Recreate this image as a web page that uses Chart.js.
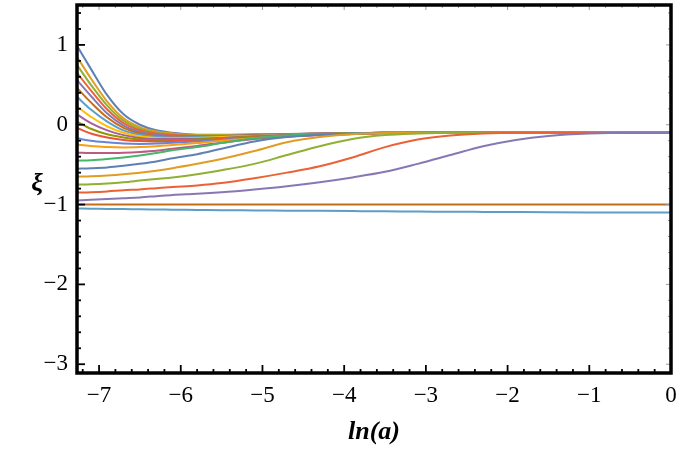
<!DOCTYPE html>
<html>
<head>
<meta charset="utf-8">
<script src="https://cdn.jsdelivr.net/npm/chart.js@4.4.1/dist/chart.umd.min.js"></script>
<style>
  html, body { margin: 0; padding: 0; background: #fff; }
  canvas { display: block; }
</style>
</head>
<body>
<canvas id="chart" width="681" height="452"></canvas>
<script>
// ln(a) sample points shared by every curve
const lnA = [-7.27, -7.1, -6.9, -6.7, -6.5, -6.3, -6.1, -5.8, -5.5, -5.1, -4.7, -4.3, -3.9, -3.5, -3.1, -2.7, -2.3, -1.9, -1.5, -1.0, -0.5, 0];

// xi(ln a) for each initial value (top curve first)
const xiCurves = [
  [0.99, 0.7, 0.37, 0.13, 0.0, -0.07, -0.1, -0.125, -0.125, -0.12, -0.115, -0.11, -0.105, -0.1, -0.1, -0.1, -0.1, -0.1, -0.1, -0.1, -0.1, -0.1],
  [0.85, 0.58, 0.29, 0.08, -0.03, -0.085, -0.11, -0.13, -0.13, -0.125, -0.12, -0.11, -0.105, -0.1, -0.1, -0.1, -0.1, -0.1, -0.1, -0.1, -0.1, -0.1],
  [0.75, 0.5, 0.24, 0.05, -0.05, -0.1, -0.12, -0.135, -0.135, -0.125, -0.12, -0.11, -0.105, -0.1, -0.1, -0.1, -0.1, -0.1, -0.1, -0.1, -0.1, -0.1],
  [0.65, 0.43, 0.19, 0.02, -0.07, -0.11, -0.13, -0.14, -0.14, -0.13, -0.12, -0.11, -0.105, -0.1, -0.1, -0.1, -0.1, -0.1, -0.1, -0.1, -0.1, -0.1],
  [0.56, 0.36, 0.14, -0.01, -0.09, -0.125, -0.14, -0.145, -0.14, -0.13, -0.12, -0.11, -0.105, -0.1, -0.1, -0.1, -0.1, -0.1, -0.1, -0.1, -0.1, -0.1],
  [0.46, 0.28, 0.09, -0.04, -0.11, -0.14, -0.15, -0.15, -0.145, -0.135, -0.125, -0.115, -0.105, -0.1, -0.1, -0.1, -0.1, -0.1, -0.1, -0.1, -0.1, -0.1],
  [0.35, 0.19, 0.04, -0.07, -0.125, -0.15, -0.16, -0.155, -0.15, -0.14, -0.125, -0.115, -0.11, -0.1, -0.1, -0.1, -0.1, -0.1, -0.1, -0.1, -0.1, -0.1],
  [0.23, 0.1, -0.02, -0.1, -0.145, -0.165, -0.17, -0.165, -0.155, -0.14, -0.13, -0.12, -0.11, -0.1, -0.1, -0.1, -0.1, -0.1, -0.1, -0.1, -0.1, -0.1],
  [0.13, 0.02, -0.07, -0.13, -0.165, -0.18, -0.18, -0.175, -0.165, -0.145, -0.13, -0.12, -0.11, -0.105, -0.1, -0.1, -0.1, -0.1, -0.1, -0.1, -0.1, -0.1],
  [0.04, -0.05, -0.12, -0.16, -0.185, -0.195, -0.195, -0.185, -0.17, -0.15, -0.135, -0.12, -0.11, -0.105, -0.1, -0.1, -0.1, -0.1, -0.1, -0.1, -0.1, -0.1],
  [-0.04, -0.11, -0.16, -0.19, -0.205, -0.21, -0.205, -0.195, -0.18, -0.16, -0.14, -0.125, -0.115, -0.105, -0.1, -0.1, -0.1, -0.1, -0.1, -0.1, -0.1, -0.1],
  [-0.17, -0.2, -0.22, -0.235, -0.24, -0.235, -0.225, -0.21, -0.19, -0.165, -0.145, -0.13, -0.115, -0.105, -0.1, -0.1, -0.1, -0.1, -0.1, -0.1, -0.1, -0.1],
  [-0.25, -0.265, -0.28, -0.285, -0.28, -0.27, -0.255, -0.23, -0.2, -0.17, -0.145, -0.125, -0.115, -0.105, -0.1, -0.1, -0.1, -0.1, -0.1, -0.1, -0.1, -0.1],
  [-0.35, -0.355, -0.355, -0.35, -0.34, -0.325, -0.3, -0.265, -0.225, -0.18, -0.15, -0.13, -0.115, -0.105, -0.1, -0.1, -0.1, -0.1, -0.1, -0.1, -0.1, -0.1],
  [-0.45, -0.445, -0.43, -0.41, -0.385, -0.355, -0.32, -0.28, -0.23, -0.17, -0.135, -0.12, -0.11, -0.1, -0.1, -0.1, -0.1, -0.1, -0.1, -0.1, -0.1, -0.1],
  [-0.55, -0.545, -0.535, -0.515, -0.49, -0.46, -0.42, -0.37, -0.3, -0.21, -0.155, -0.125, -0.11, -0.1, -0.1, -0.1, -0.1, -0.1, -0.1, -0.1, -0.1, -0.1],
  [-0.65, -0.645, -0.635, -0.62, -0.6, -0.575, -0.545, -0.49, -0.43, -0.33, -0.22, -0.155, -0.12, -0.105, -0.1, -0.1, -0.1, -0.1, -0.1, -0.1, -0.1, -0.1],
  [-0.75, -0.745, -0.735, -0.72, -0.7, -0.68, -0.66, -0.62, -0.57, -0.49, -0.38, -0.27, -0.18, -0.13, -0.11, -0.1, -0.1, -0.1, -0.1, -0.1, -0.1, -0.1],
  [-0.85, -0.845, -0.835, -0.82, -0.81, -0.795, -0.78, -0.76, -0.73, -0.67, -0.6, -0.52, -0.41, -0.28, -0.185, -0.135, -0.11, -0.1, -0.1, -0.1, -0.1, -0.1],
  [-0.95, -0.94, -0.93, -0.92, -0.91, -0.895, -0.88, -0.865, -0.845, -0.81, -0.77, -0.72, -0.66, -0.59, -0.49, -0.38, -0.27, -0.19, -0.14, -0.11, -0.1, -0.1],
  [-1.0, -1.0, -1.0, -1.0, -1.0, -1.0, -1.0, -1.0, -1.0, -1.0, -1.0, -1.0, -1.0, -1.0, -1.0, -1.0, -1.0, -1.0, -1.0, -1.0, -1.0, -1.0],
  [-1.05, -1.052, -1.055, -1.057, -1.06, -1.062, -1.064, -1.067, -1.07, -1.073, -1.076, -1.079, -1.082, -1.085, -1.087, -1.09, -1.092, -1.094, -1.096, -1.098, -1.099, -1.1]
];

const xTicks = [-7, -6, -5, -4, -3, -2, -1, 0];
const yTicks = [-3, -2, -1, 0, 1];

// Mathematica default plot colours, cycled
const palette = ['#5E81B5', '#E19C24', '#8FB032', '#EB6235', '#8778B3', '#C56E1A', '#5D9EC7',
  '#FFBF00', '#A5609D', '#929600', '#E95536', '#6685D9', '#F89F13', '#BC5B80', '#47B66D'];

const fmt = v => (v < 0 ? '\u2212' + Math.abs(v) : String(v));

// frame with inward ticks, plus the two axis titles
const framePlugin = {
  id: 'frame',
  afterDraw(chart) {
    const { ctx, chartArea: a, scales } = chart;
    const xs = scales.x, ys = scales.y;
    ctx.save();
    const tick = (x1, y1, x2, y2, color, w) => {
      ctx.strokeStyle = color;
      ctx.lineWidth = w;
      ctx.beginPath();
      ctx.moveTo(x1, y1);
      ctx.lineTo(x2, y2);
      ctx.stroke();
    };
    for (let i = -36; i <= 0; i++) {
      const v = i / 5;
      if (v < xs.min) continue;
      const px = xs.getPixelForValue(v);
      const major = i % 5 === 0;
      tick(px, a.bottom, px, a.bottom - (major ? 8 : 4), '#000', 1.8);
      tick(px, a.top, px, a.top + (major ? 5 : 3), '#999', 1);
    }
    for (let i = -15; i <= 7; i++) {
      const v = i / 5;
      const py = ys.getPixelForValue(v);
      const major = i % 5 === 0;
      tick(a.left, py, a.left + (major ? 8 : 4), py, '#000', 1.8);
      tick(a.right, py, a.right - (major ? 5 : 3), py, '#999', 1);
    }
    ctx.strokeStyle = '#000';
    ctx.lineWidth = 3.5;
    ctx.strokeRect(a.left, a.top, a.right - a.left, a.bottom - a.top);

    ctx.fillStyle = '#000';
    ctx.textAlign = 'center';
    ctx.textBaseline = 'middle';
    ctx.font = 'italic bold 26px "Liberation Serif", serif';
    ctx.fillText('ξ', 37, 184);
    ctx.fillText('ln(a)', (a.left + a.right) / 2, 432);
    ctx.restore();
  }
};

new Chart(document.getElementById('chart'), {
  type: 'line',
  data: {
    datasets: xiCurves.map((ys, i) => ({
      data: ys.map((y, j) => ({ x: lnA[j], y: y })),
      borderColor: palette[i % palette.length],
      borderWidth: 2,
      pointRadius: 0,
      fill: false,
      cubicInterpolationMode: 'monotone',
      order: xiCurves.length - i
    }))
  },
  options: {
    responsive: false,
    animation: false,
    devicePixelRatio: 1,
    layout: { padding: { left: 0, right: 10, top: 5, bottom: 0 } },
    plugins: { legend: { display: false }, tooltip: { enabled: false } },
    scales: {
      x: {
        type: 'linear',
        min: -7.27,
        max: 0,
        grid: { display: false, drawTicks: false },
        border: { display: false },
        afterFit: s => { s.height = 79; s.paddingLeft = 0; s.paddingRight = 0; },
        afterBuildTicks: s => { s.ticks = xTicks.map(v => ({ value: v })); },
        ticks: {
          padding: 9,
          color: '#000',
          maxRotation: 0,
          font: { family: '"Liberation Serif", serif', size: 23 },
          callback: v => fmt(v)
        }
      },
      y: {
        type: 'linear',
        min: -3.11,
        max: 1.5,
        grid: { display: false, drawTicks: false },
        border: { display: false },
        afterFit: s => { s.width = 77; s.paddingTop = 0; s.paddingBottom = 0; },
        afterBuildTicks: s => { s.ticks = yTicks.map(v => ({ value: v })); },
        ticks: {
          padding: 9,
          color: '#000',
          font: { family: '"Liberation Serif", serif', size: 23 },
          callback: v => fmt(v)
        }
      }
    }
  },
  plugins: [framePlugin]
});
</script>
</body>
</html>
